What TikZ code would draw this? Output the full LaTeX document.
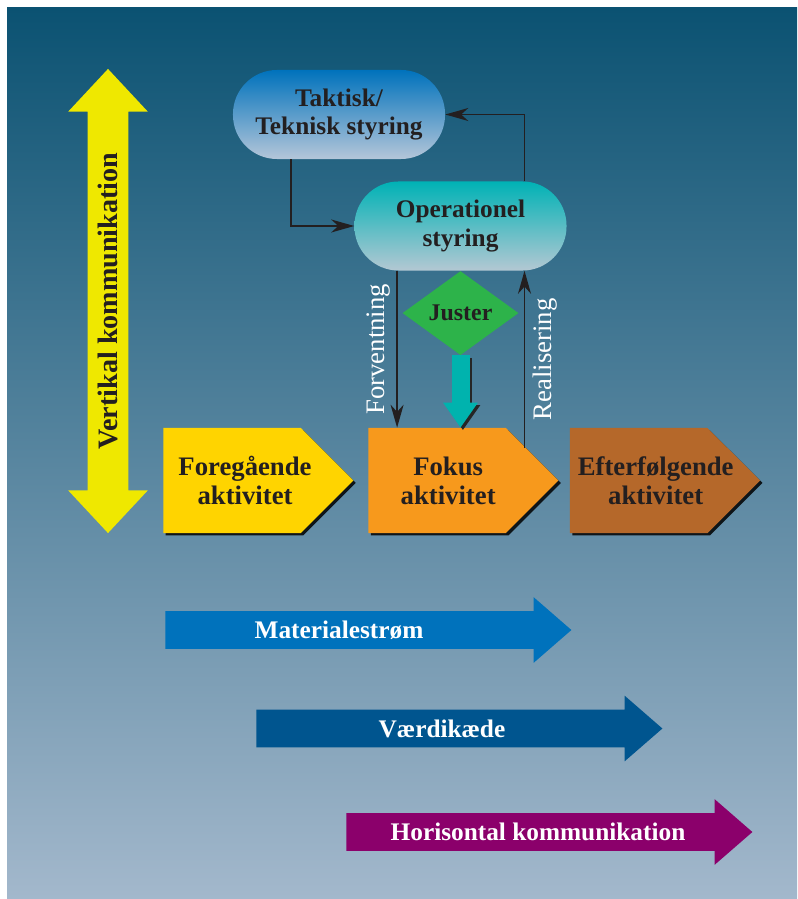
\documentclass[tikz,border=0pt]{standalone}
\usepackage{fontspec}
\setmainfont{Liberation Serif}
\usetikzlibrary{positioning, arrows.meta, shapes.geometric, shapes.symbols, shapes.arrows, shadows}

\definecolor{ink}{HTML}{231F20}
\definecolor{bgtop}{HTML}{0B5272}
\definecolor{bgbot}{HTML}{A3B8CC}
\definecolor{vertyellow}{HTML}{EFE800}
\definecolor{foreyellow}{HTML}{FFD400}
\definecolor{fokusorange}{HTML}{F7991C}
\definecolor{eftbrown}{HTML}{B5682A}
\definecolor{justgreen}{HTML}{2DB34A}
\definecolor{justteal}{HTML}{00B3AE}
\definecolor{taktblue}{HTML}{0072BC}
\definecolor{taktpale}{HTML}{B4C6D9}
\definecolor{opteal}{HTML}{00B2B5}
\definecolor{oppale}{HTML}{B3C8D3}
\definecolor{matblue}{HTML}{0072BC}
\definecolor{vaerdblue}{HTML}{00558F}
\definecolor{horpurple}{HTML}{8B006B}

\begin{document}
\begin{tikzpicture}[
    x=0.025cm, y=-0.025cm,
    lbl/.style={font=\fontsize{18}{20}\selectfont\bfseries, text=ink, align=center},
    stadium/.style={lbl, rectangle, rounded corners=1.1cm, minimum width=5.3cm, minimum height=2.225cm},
    activity/.style={signal, signal to=east, signal pointer angle=90,
        minimum width=4.75cm, minimum height=2.625cm, inner sep=0pt,
        drop shadow={shadow xshift=0.06cm, shadow yshift=-0.06cm, fill=black, opacity=0.85}},
    acttext/.style={lbl, font=\fontsize{19}{20.5}\selectfont\bfseries},
    flowarrow/.style={single arrow, single arrow head extend=0.35cm, single arrow tip angle=82, single arrow head indent=0,
        minimum height=10.15cm, inner xsep=0pt, inner ysep=0.4625cm, anchor=tail},
    flowtext/.style={font=\fontsize{18}{20}\selectfont\bfseries, text=white},
    link/.style={-{Stealth[length=0.575cm, width=0.325cm, inset=0.18cm]}, line width=1.1pt, draw=ink},
    sidetext/.style={font=\fontsize{19}{21}\selectfont, text=white, rotate=90},
    push/.style={line width=0.45cm, -{Triangle[width=0.825cm, length=0.625cm]}},
]
  \useasboundingbox (0,0) rectangle (797,899);
  \fill[white] (0,0) rectangle (797,899);
  \shade[top color=bgtop, bottom color=bgbot] (7,8) rectangle (797,899);

  % vertical communication
  \node[double arrow, double arrow head extend=0.49cm, double arrow tip angle=86, double arrow head indent=0,
        minimum height=11.6cm, inner xsep=0pt, inner ysep=0.25cm, fill=vertyellow, rotate=90,
        font=\fontsize{20}{22}\selectfont\bfseries, text=ink] (vert) at (108,301) {Vertikal kommunikation};

  % steering levels
  \node[stadium, top color=taktblue, middle color=taktblue!70!taktpale, bottom color=taktpale] (takt) at (339,114.5) {Taktisk/\\Teknisk styring};
  \node[stadium, top color=opteal, middle color=opteal!65!oppale, bottom color=oppale] (op) at (460.5,226) {Operationel\\styring};
  \node[lbl, diamond, fill=justgreen, minimum width=2.9cm, minimum height=2.1cm, inner sep=0pt,
        font=\fontsize{17}{19}\selectfont\bfseries, below=0pt of op] (just) {Juster};

  % activities
  \node[activity, fill=foreyellow, anchor=west] (fore) at (163,480.5) {};
  \node[activity, fill=fokusorange, right=0.36cm of fore] (fokus) {};
  \node[activity, fill=eftbrown, right=0.27cm of fokus] (eft) {};
  \node[acttext] (foretxt) at ([xshift=2.05cm]fore.west) {Foregående\\aktivitet};
  \node[acttext] (fokustxt) at ([xshift=2.0cm]fokus.west) {Fokus\\aktivitet};
  \node[acttext] (efttxt) at ([xshift=2.15cm]eft.west) {Efterfølgende\\aktivitet};

  % control loops
  \draw[link] ([xshift=-1.2cm]takt.south) |- (op.west);
  \draw[link] ([xshift=1.6cm]op.north) |- (takt.east);
  \draw[link] ([xshift=-1.585cm]op.south) -- node[sidetext, anchor=south, inner sep=0.15cm] {Forventning}
        ([xshift=-1.585cm]op.south |- fokus.north);
  \coordinate (realfoot) at (524.5,448);
  \draw[link] (realfoot) -- node[sidetext, anchor=north, inner sep=0.2cm] {Realisering} (realfoot |- op.south);
  \draw[push, draw=black!85, transform canvas={xshift=0.06cm, yshift=-0.06cm}] (just.south) -- (just.south |- fokus.north);
  \draw[push, draw=justteal] (just.south) -- (just.south |- fokus.north);

  % horizontal flows
  \node[flowarrow, fill=matblue] (mat) at (165,630) {};
  \node[flowtext] (mattext) at (339,630) {Materialestrøm};
  \node[flowarrow, fill=vaerdblue] (vaerd) at (256,728.5) {};
  \node[flowtext] (vaerdtext) at (442,728.5) {Værdikæde};
  \node[flowarrow, fill=horpurple] (hor) at (346,832) {};
  \node[flowtext] (hortext) at (538,832) {Horisontal kommunikation};
\end{tikzpicture}
\end{document}
